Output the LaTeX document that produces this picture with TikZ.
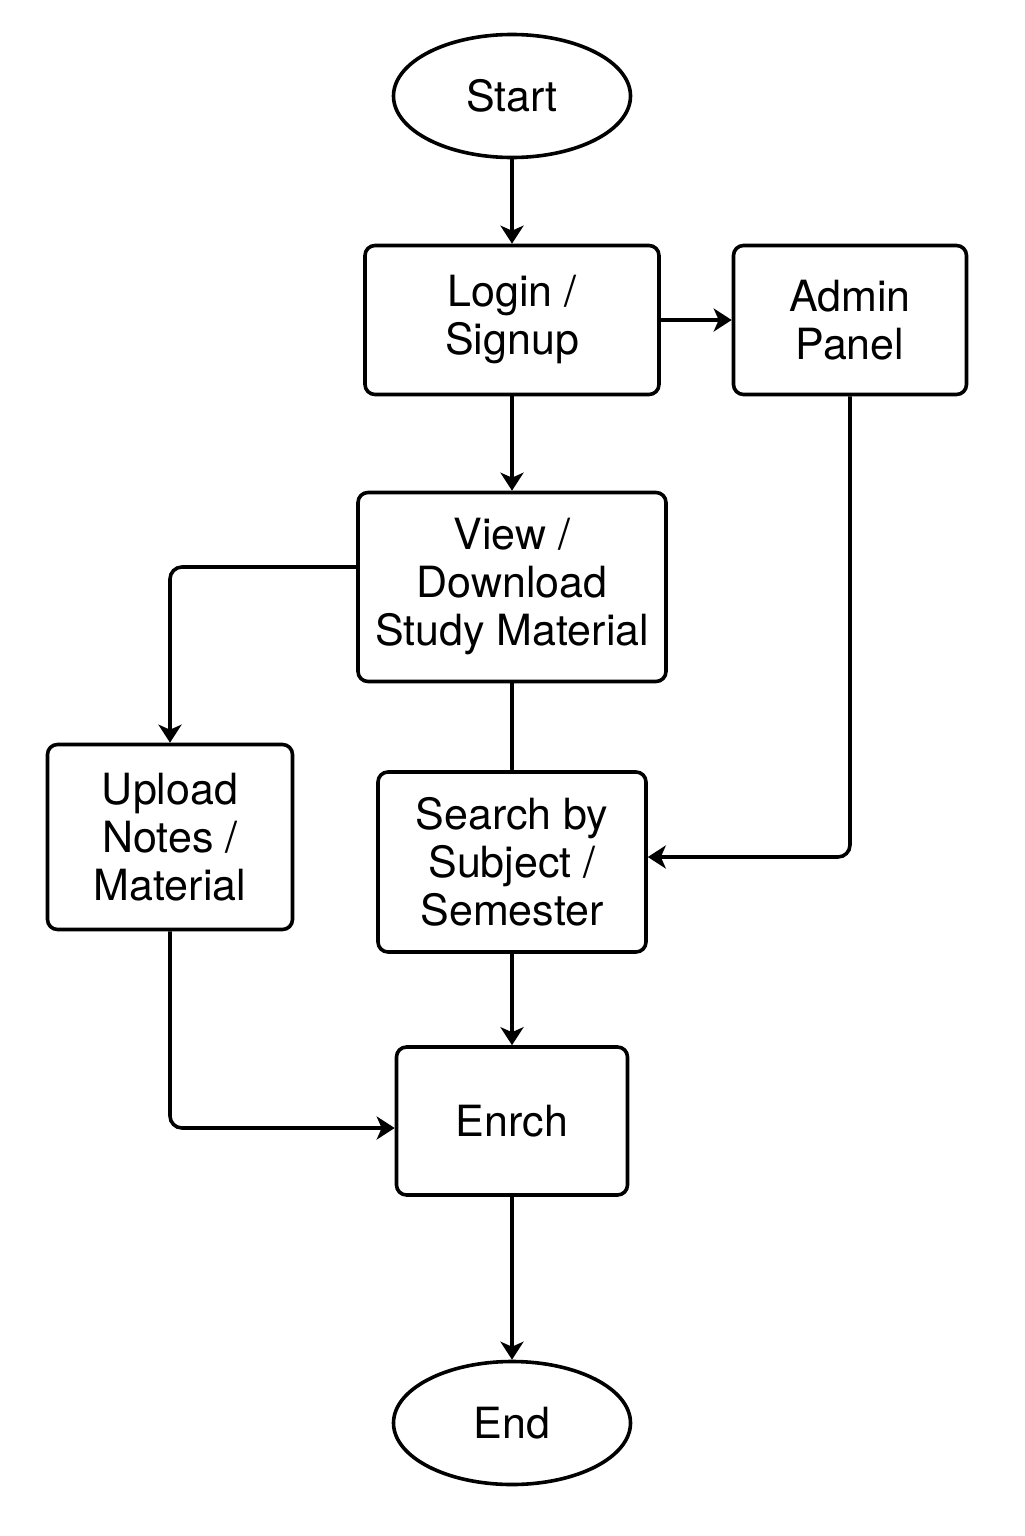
\documentclass[tikz,border=0pt]{standalone}
\usepackage{fontspec}
\setmainfont{TeX Gyre Heros}
\usetikzlibrary{positioning, arrows.meta, shapes.geometric}

\begin{document}
\begin{tikzpicture}[
  x=0.5pt, y=-0.5pt,
  line width=1.8pt,
  lbl/.style={font=\fontsize{21.5}{24}\selectfont, align=center},
  box/.style={lbl, draw, rounded corners=5pt, inner sep=0pt},
  term/.style={lbl, draw, ellipse, inner sep=0pt,
               minimum width=118.5pt, minimum height=61.5pt},
  arr/.style={-{Stealth[length=9pt, width=11.5pt, inset=2.5pt]}},
  elbow/.style={arr, rounded corners=6pt},
]
\useasboundingbox (0,0) rectangle (1024,1536);
\node[term] (start) at (512,96) {Start};
\node[box, minimum width=147pt, minimum height=74.5pt] (login) at (512,320) {Login /\\Signup};
\node[box, minimum width=116.5pt, minimum height=74.5pt] (admin) at (850,320) {Admin\\Panel};
\node[box, minimum width=154pt, minimum height=94.5pt] (view) at (512,587) {View /\\Download\\Study Material};
\node[box, minimum width=122.5pt, minimum height=92.5pt] (upload) at (170,837) {Upload\\Notes /\\Material};
\node[box, minimum width=134pt, minimum height=90pt] (search) at (512,862) {Search by\\Subject /\\Semester};
\node[box, minimum width=115.5pt, minimum height=74pt] (enrch) at (512,1121) {Enrch};
\node[term] (end) at (512,1423) {End};

\draw[arr] (start) -- (login);
\draw[arr] (login) -- (admin);
\draw[arr] (login) -- (view);
\draw[elbow] ([yshift=10pt]view.west) -| (upload.north);
\draw (view) -- (search);
\draw[elbow] (admin.south) |- ([yshift=2.5pt]search.east);
\draw[arr] (search) -- (enrch);
\draw[elbow] (upload.south) |- ([yshift=-3.5pt]enrch.west);
\draw[arr] (enrch) -- (end);
\end{tikzpicture}
\end{document}
